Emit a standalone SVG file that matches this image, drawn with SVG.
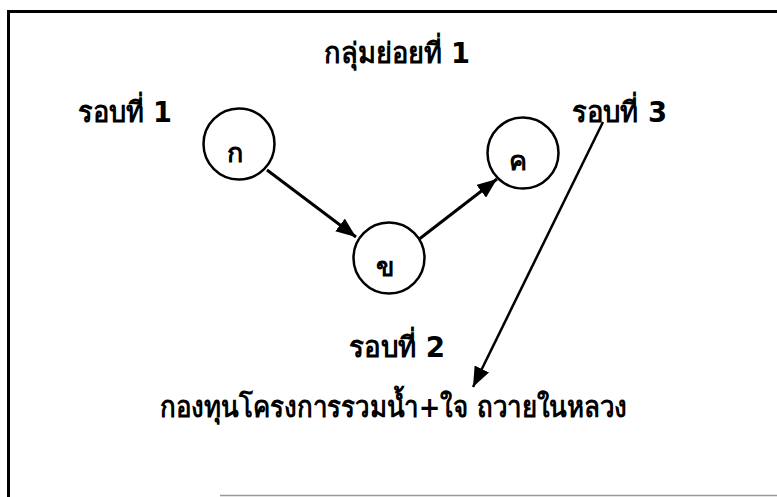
<svg xmlns="http://www.w3.org/2000/svg" width="777" height="497" viewBox="0 0 777 497">
<defs>
<marker id="ah" markerUnits="userSpaceOnUse" markerWidth="22" markerHeight="16" refX="20" refY="8" orient="auto">
<path d="M0,0 L20,8 L0,16 Z" fill="#000"/>
</marker>
</defs>
<style>
.t{font-family:"DejaVu Sans",sans-serif;font-weight:bold;font-size:29px;fill:#000}
.n{font-family:"DejaVu Sans",sans-serif;font-weight:bold;font-size:27px;fill:#000;text-anchor:middle}
.c{fill:#fff;stroke:#000;stroke-width:2.5}
.e{stroke:#000;stroke-width:3;fill:none}
</style>
<rect width="777" height="497" fill="#fff"/>
<g id="frame">
<line x1="7" y1="11.5" x2="777" y2="11.5" stroke="#000" stroke-width="3"/>
<line x1="8.5" y1="11" x2="8.5" y2="497" stroke="#000" stroke-width="3"/>
<line x1="220" y1="495.5" x2="777" y2="495.5" stroke="#999" stroke-width="1.5"/>
</g>
<g id="labels">
<text class="t" x="324" y="63" textLength="146" lengthAdjust="spacingAndGlyphs">กลุ่มย่อยที่ 1</text>
<text class="t" x="78" y="122" textLength="94" lengthAdjust="spacingAndGlyphs">รอบที่ 1</text>
<text class="t" x="572" y="122" textLength="95" lengthAdjust="spacingAndGlyphs">รอบที่ 3</text>
<text class="t" x="349" y="357" textLength="96" lengthAdjust="spacingAndGlyphs">รอบที่ 2</text>
</g>
<g id="fund">
<text class="t" x="160" y="417" textLength="467" lengthAdjust="spacingAndGlyphs">กองทุนโครงการรวมน้ำ+ใจ ถวายในหลวง</text>
</g>
<g id="connectors">
<line class="e" x1="267" y1="170" x2="356" y2="237" marker-end="url(#ah)"/>
<line class="e" x1="418" y1="240" x2="497" y2="179" marker-end="url(#ah)"/>
<line x1="603" y1="122" x2="473" y2="387" stroke="#000" stroke-width="2.5" marker-end="url(#ah)"/>
</g>
<g id="node-ko">
<circle class="c" cx="239" cy="144" r="35.5"/>
<text class="n" x="235" y="162">ก</text>
</g>
<g id="node-kho">
<circle class="c" cx="389" cy="258" r="35.5"/>
<text class="n" x="385" y="276">ข</text>
</g>
<g id="node-kho-khwai">
<circle class="c" cx="523" cy="153" r="35.5"/>
<text class="n" x="518" y="170">ค</text>
</g>
</svg>
